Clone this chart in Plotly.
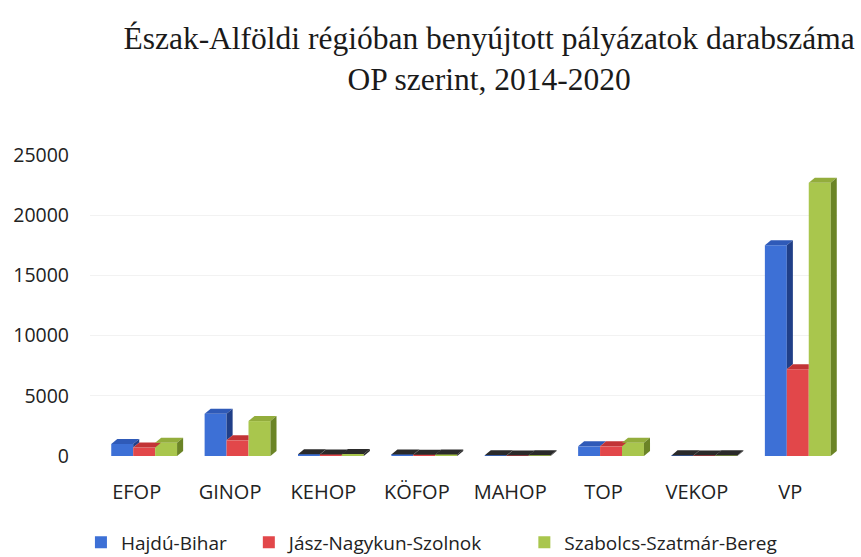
import plotly.graph_objects as go

# Operational programmes (OP) and number of submitted applications per county
categories = ["EFOP", "GINOP", "KEHOP", "KÖFOP", "MAHOP", "TOP", "VEKOP", "VP"]
hajdu_bihar = [1000, 3500, 150, 120, 60, 800, 50, 17500]
jasz_nagykun_szolnok = [700, 1300, 120, 100, 40, 800, 40, 7200]
szabolcs_szatmar_bereg = [1100, 2900, 170, 130, 60, 1100, 50, 22700]
y_ticks = [0, 5000, 10000, 15000, 20000, 25000]

# name, values, front colour, top colour, side colour
series = [
    ("Hajdú-Bihar", hajdu_bihar, "#3d70d6", "#2f5ab8", "#203f88"),
    ("Jász-Nagykun-Szolnok", jasz_nagykun_szolnok, "#e2474a", "#c23436", "#8c2224"),
    ("Szabolcs-Szatmár-Bereg", szabolcs_szatmar_bereg, "#a9c64d", "#93ad3c", "#6b8426"),
]
legend_ids = ["legend", "legend2", "legend3"]
legend_x = [0.094, 0.289, 0.609]   # left edge of each legend entry (container fraction)

BAR_W = 0.235          # width of one column (category units)
GROUP_SHIFT = 0.08     # columns sit slightly right of the category label
DX = 0.065             # depth offset of the 3-D faces, x direction
DY = 420               # depth offset of the 3-D faces, y direction
FLAT = 500             # columns lower than this render as a dark slab
SLAB = "#2a2a2a"

x_idx = list(range(len(categories)))
first_offset = -1.5 * BAR_W + GROUP_SHIFT

fig = go.Figure()
for i, (name, values, front, top, side) in enumerate(series):
    fig.add_trace(go.Bar(
        name=name,
        x=x_idx,
        y=values,
        width=BAR_W,
        offset=first_offset + i * BAR_W,
        marker=dict(color=front, line=dict(width=0)),
        legend=legend_ids[i],
    ))


def poly(pts):
    return "M " + " L ".join(f"{x},{y}" for x, y in pts) + " Z"


# pseudo 3-D top and side faces of every column
shapes = []
for k in x_idx:
    vals = [s[1][k] for s in series]
    for i, (name, values, front, top, side) in enumerate(series):
        v = vals[i]
        x0 = k + first_offset + i * BAR_W
        x1 = x0 + BAR_W
        flat = v < FLAT
        top_col = SLAB if flat else top
        side_col = SLAB if flat else side
        nxt = vals[i + 1] if i + 1 < len(vals) else None

        # top face (clipped where the next, taller column is in front)
        if nxt is not None and nxt >= v + DY:
            pts = [(x0, v), (x1, v), (x1, v + DY), (x0 + DX, v + DY)]
        else:
            pts = [(x0, v), (x1, v), (x1 + DX, v + DY), (x0 + DX, v + DY)]
        shapes.append(dict(type="path", path=poly(pts), xref="x", yref="y",
                           fillcolor=top_col, line=dict(width=0), layer="above"))

        # right side face, visible only above the neighbouring column
        low = 0 if nxt is None else nxt
        if v > low:
            pts = [(x1, low), (x1 + DX, low + DY), (x1 + DX, v + DY), (x1, v)]
            shapes.append(dict(type="path", path=poly(pts), xref="x", yref="y",
                               fillcolor=side_col, line=dict(width=0), layer="above"))

legend_font = dict(family="Open Sans", size=19, color="#222222")
legend_common = dict(
    orientation="h",
    xref="container",
    yref="container",
    y=0.026,
    xanchor="left",
    yanchor="middle",
    font=legend_font,
    bgcolor="rgba(0,0,0,0)",
)

fig.update_layout(
    width=861,
    height=557,
    paper_bgcolor="white",
    plot_bgcolor="white",
    barmode="overlay",
    margin=dict(l=90, r=24, t=155, b=101),
    shapes=shapes,
    title=dict(
        text="Észak-Alföldi régióban benyújtott pályázatok darabszáma<br>OP szerint, 2014-2020",
        font=dict(family="Liberation Serif", size=31.5, color="#1a1a1a"),
        x=0.568,
        xanchor="center",
        y=0.912,
        yanchor="middle",
    ),
    font=dict(family="Open Sans", size=20, color="#222222"),
    showlegend=True,
    legend=dict(x=legend_x[0], **legend_common),
    legend2=dict(x=legend_x[1], **legend_common),
    legend3=dict(x=legend_x[2], **legend_common),
)

fig.update_xaxes(
    range=[-0.5, len(categories) - 0.5],
    tickvals=x_idx,
    ticktext=categories,
    showgrid=False,
    showline=False,
    zeroline=False,
    ticks="",
    ticklabelstandoff=22,
    tickfont=dict(family="Open Sans", size=20, color="#222222"),
)
fig.update_yaxes(
    range=[0, 25000],
    tickvals=y_ticks,
    tickformat="d",
    showgrid=True,
    gridcolor="#f2f2f2",
    zeroline=False,
    showline=False,
    ticks="",
    ticklabelstandoff=20,
    tickfont=dict(family="Open Sans", size=19.5, color="#222222"),
)

fig.write_html("out.html")
